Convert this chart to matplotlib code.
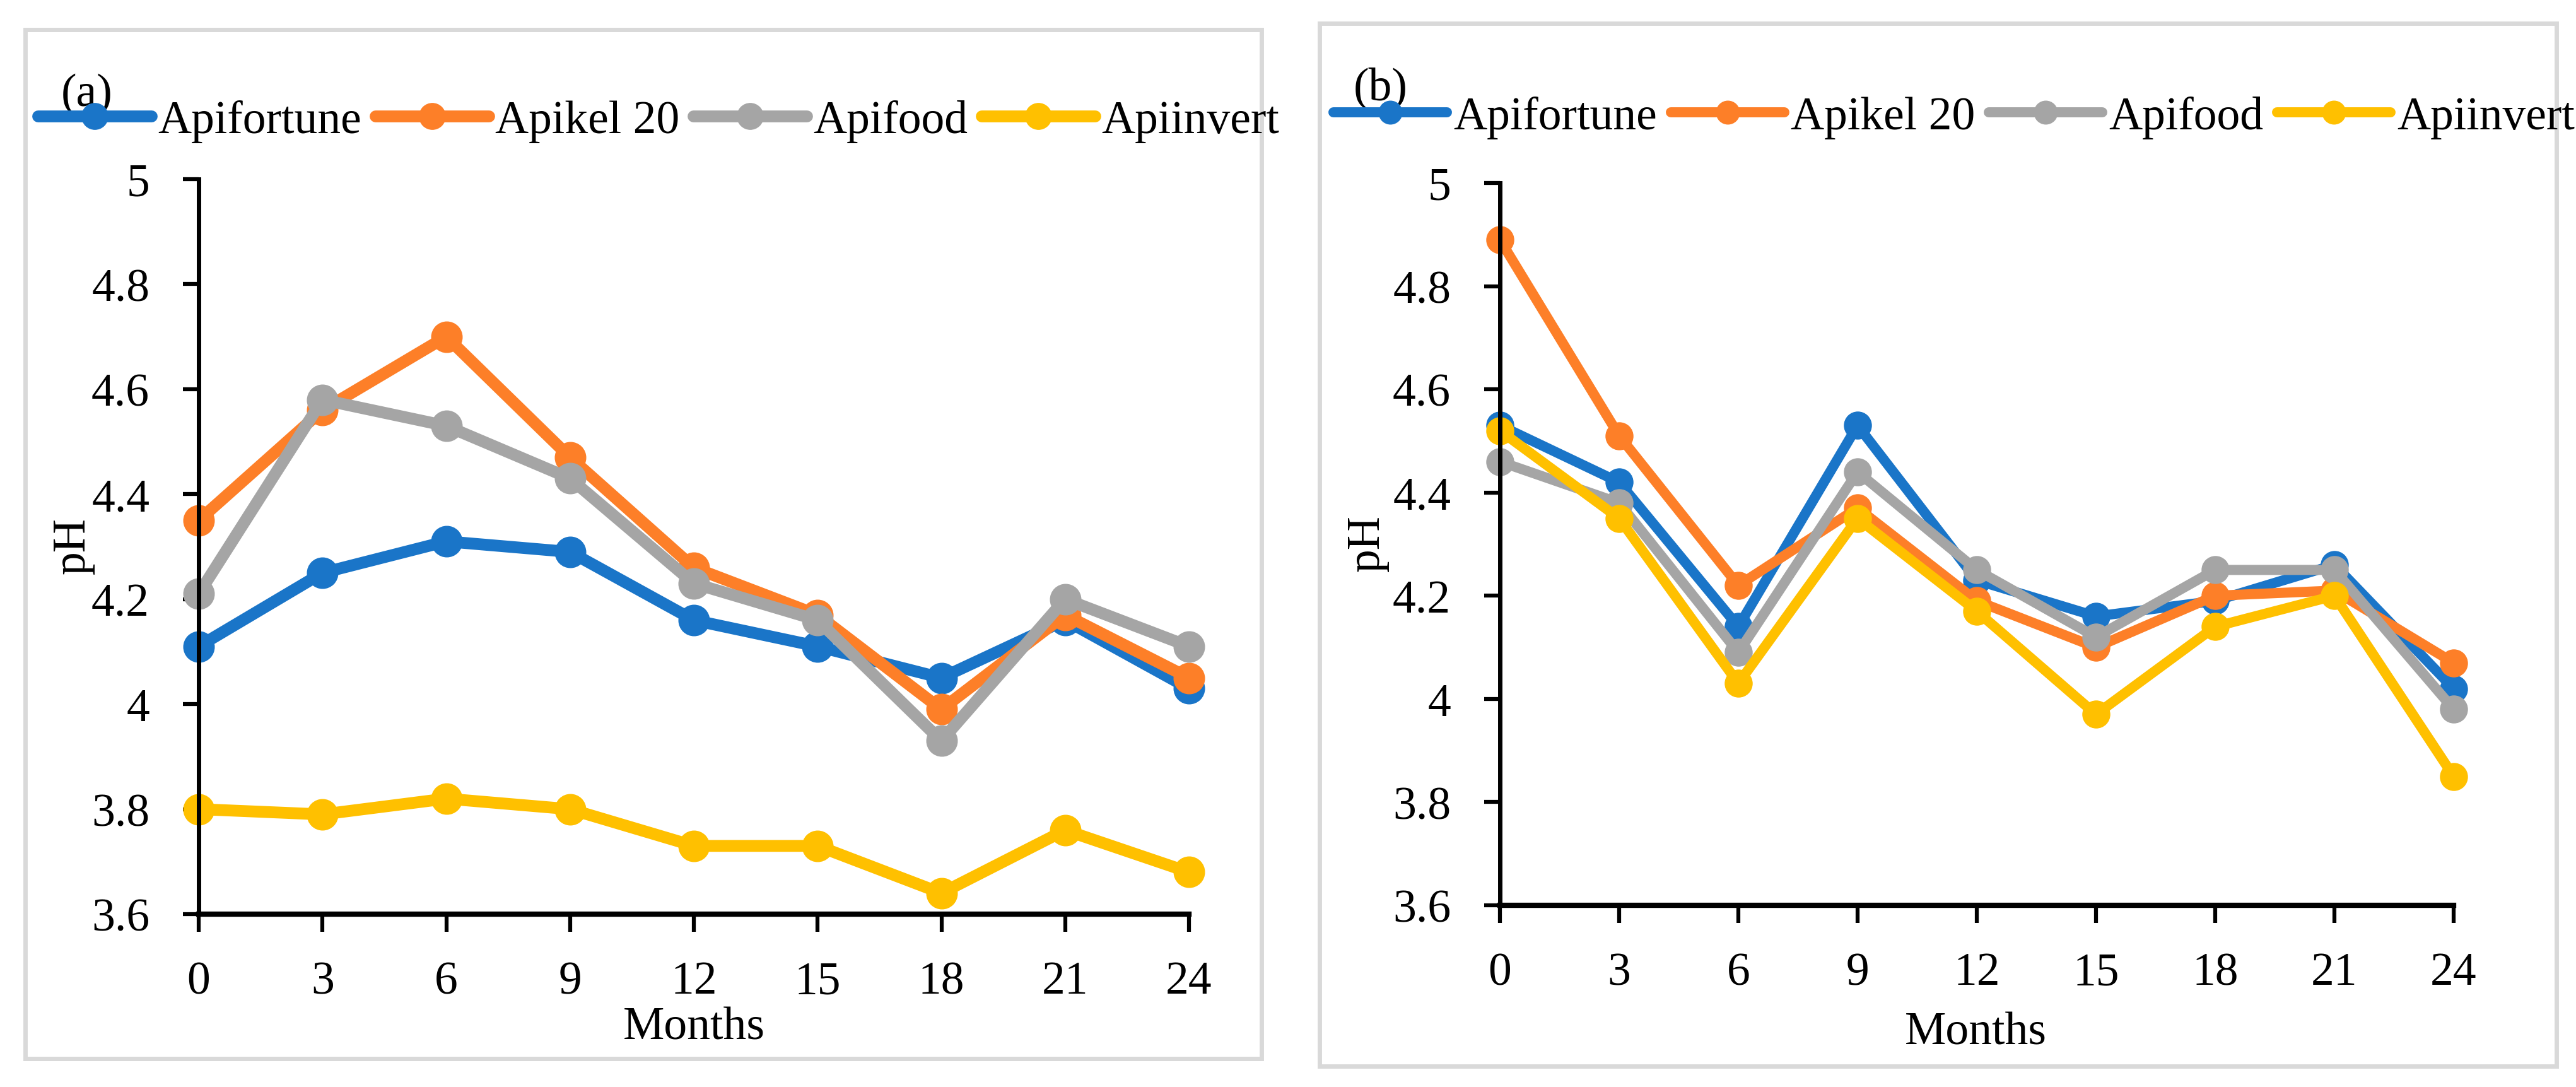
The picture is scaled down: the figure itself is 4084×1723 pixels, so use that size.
import matplotlib
matplotlib.use("Agg")
import matplotlib.pyplot as plt
from matplotlib.patches import Rectangle

plt.rcParams['font.family'] = ['Liberation Serif', 'DejaVu Serif']

months = [0, 3, 6, 9, 12, 15, 18, 21, 24]
names = ["Apifortune", "Apikel 20", "Apifood", "Apiinvert"]
colors = ["#1A75C8", "#FD7F28", "#A5A5A5", "#FFC000"]

# panel (a)
a_apifortune = [4.11, 4.25, 4.31, 4.29, 4.16, 4.11, 4.05, 4.16, 4.03]
a_apikel = [4.35, 4.56, 4.70, 4.47, 4.26, 4.17, 3.99, 4.17, 4.05]
a_apifood = [4.21, 4.58, 4.53, 4.43, 4.23, 4.16, 3.93, 4.20, 4.11]
a_apiinvert = [3.80, 3.79, 3.82, 3.80, 3.73, 3.73, 3.64, 3.76, 3.68]

# panel (b)
b_apifortune = [4.53, 4.42, 4.14, 4.53, 4.23, 4.16, 4.19, 4.26, 4.02]
b_apikel = [4.89, 4.51, 4.22, 4.37, 4.19, 4.10, 4.20, 4.21, 4.07]
b_apifood = [4.46, 4.38, 4.09, 4.44, 4.25, 4.12, 4.25, 4.25, 3.98]
b_apiinvert = [4.52, 4.35, 4.03, 4.35, 4.17, 3.97, 4.14, 4.20, 3.85]

yticks = [3.6, 3.8, 4.0, 4.2, 4.4, 4.6, 4.8, 5.0]
yticklabels = ["3.6", "3.8", "4", "4.2", "4.4", "4.6", "4.8", "5"]

W, H = 4084, 1724
fig = plt.figure(figsize=(W / 100, H / 100), dpi=100)


def px(x, y):
    # pixel position (from top-left) -> figure fraction
    return x / W, 1 - y / H


# grey panel frames
for x0, y0, x1, y1 in [(40, 48, 2000, 1679), (2092, 38, 4053, 1691)]:
    fig.patches.append(Rectangle(px(x0, y1), (x1 - x0) / W, (y1 - y0) / H,
                                 transform=fig.transFigure, fill=False,
                                 edgecolor="#D9D9D9", linewidth=5))

fs = 53


def draw(ax, series, lw, ms, ylab_xy, xlab_xy, leg_xy):
    for vals, name, c in zip(series, names, colors):
        ax.plot(months, vals, color=c, lw=lw, marker="o", markersize=ms,
                label=name, solid_joinstyle="round", solid_capstyle="round",
                clip_on=False)
    ax.set_xlim(0, 24)
    ax.set_ylim(3.6, 5.0)
    ax.set_xticks(months)
    ax.set_yticks(yticks)
    ax.set_yticklabels(yticklabels)
    ax.spines["top"].set_visible(False)
    ax.spines["right"].set_visible(False)
    ax.spines["left"].set_linewidth(5)
    ax.spines["bottom"].set_linewidth(6)
    ax.tick_params(axis="y", labelsize=fs, width=4.5, length=18, pad=38)
    ax.tick_params(axis="x", labelsize=fs, width=4.5, length=20, pad=33)
    ax.set_xlabel("Months", fontsize=fs, va="center")
    ax.set_ylabel("pH", fontsize=fs, va="center")
    ax.xaxis.set_label_coords(*px(*xlab_xy), transform=fig.transFigure)
    ax.yaxis.set_label_coords(*px(*ylab_xy), transform=fig.transFigure)
    fig.legend(handles=ax.lines, labels=names, loc="center left",
               bbox_to_anchor=px(*leg_xy), bbox_transform=fig.transFigure,
               ncol=4, frameon=False, fontsize=fs, markerscale=0.85,
               handlelength=2.45, handletextpad=0.14, columnspacing=0.29,
               borderaxespad=0, borderpad=0)


ax1 = fig.add_axes([315 / W, 1 - 1450 / H, 1570 / W, 1165 / H])
draw(ax1, [a_apifortune, a_apikel, a_apifood, a_apiinvert], 13.5, 35,
     (116, 865), (1100, 1630), (60, 193))
fig.text(*px(97, 150), "(a)", fontsize=fs, ha="left", va="center")

ax2 = fig.add_axes([2378 / W, 1 - 1436 / H, 1512 / W, 1145 / H])
draw(ax2, [b_apifortune, b_apikel, b_apifood, b_apiinvert], 11.5, 31,
     (2168, 861), (3132, 1638), (2114, 187))
fig.text(*px(2146, 140), "(b)", fontsize=fs, ha="left", va="center")

fig.savefig("out.png", dpi=100)
